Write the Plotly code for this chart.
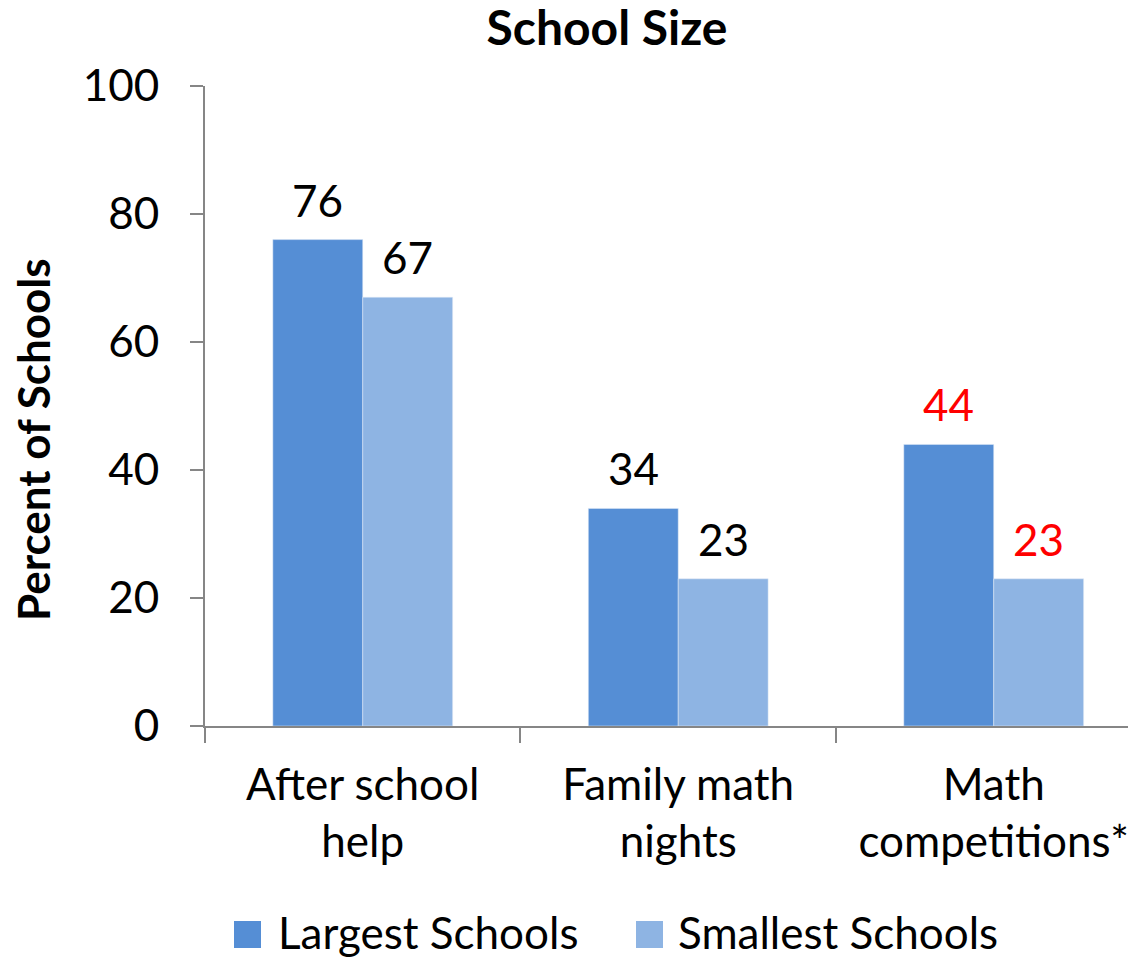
import plotly.graph_objects as go

categories = ["After school<br>help", "Family math<br>nights", "Math<br>competitions*"]
series_names = ["Largest Schools", "Smallest Schools"]
largest = [76, 34, 44]
smallest = [67, 23, 23]
label_colors = ["black", "black", "red"]
y_ticks = [0, 20, 40, 60, 80, 100]

FONT = "Lato"
SIZE = 44
COLORS = ["#558ED5", "#8EB4E3"]
AXIS = "#868686"

# the page body adds an 8px offset; work in figure pixels = page pixels - 8
OFF = 8
W, H = 1136 - OFF, 957 - OFF
ML, MR, MT = 205 - OFF, 0, 86 - OFF
MB = H - (726 - OFF)
PW, PH = W - ML - MR, H - MT - MB
X_RANGE = [-0.5, 2.451]
BARGAP = 0.43


def px_x(p):
    """page pixel x -> paper coordinate"""
    return (p - OFF - ML) / PW


def px_y(p):
    """page pixel y -> paper coordinate"""
    return (H - MB - (p - OFF)) / PH


fig = go.Figure()
for name, vals, col in zip(series_names, [largest, smallest], COLORS):
    fig.add_trace(go.Bar(x=categories, y=vals, name=name, marker=dict(color=col),
                         showlegend=False))

# value labels above each bar (offset to the bar's slot within the group)
cat_px = PW / (X_RANGE[1] - X_RANGE[0])
bar_px = cat_px * (1 - BARGAP) / 2
annotations = []
for k, vals in enumerate([largest, smallest]):
    shift = (k - 0.5) * bar_px
    for cat, v, c in zip(categories, vals, label_colors):
        annotations.append(dict(x=cat, y=v, xref="x", yref="y", text=str(v), showarrow=False,
                                xshift=shift, yshift=12, yanchor="bottom",
                                font=dict(family=FONT, size=SIZE, color=c)))

# y-axis title
annotations.append(dict(x=px_x(33), y=px_y(440), xref="paper", yref="paper",
                        text="<b>Percent of Schools</b>", textangle=-90, showarrow=False,
                        xanchor="center", yanchor="middle",
                        font=dict(family=FONT, size=SIZE, color="black")))

# legend (square + label)
legend_items = [(234, 276), (636, 676)]
shapes = []
for (sx, tx), name, col in zip(legend_items, series_names, COLORS):
    shapes.append(dict(type="rect", xref="paper", yref="paper",
                       x0=px_x(sx), x1=px_x(sx + 27), y0=px_y(948), y1=px_y(921),
                       fillcolor=col, line=dict(width=0)))
    annotations.append(dict(x=px_x(tx), y=px_y(932), xref="paper", yref="paper",
                            text=name, showarrow=False, xanchor="left", yanchor="middle",
                            font=dict(family=FONT, size=SIZE, color="black")))

fig.update_layout(
    width=W, height=H,
    margin=dict(l=ML, r=MR, t=MT, b=MB),
    plot_bgcolor="white", paper_bgcolor="white",
    font=dict(family=FONT, size=SIZE, color="black"),
    barmode="group", bargap=BARGAP, bargroupgap=0,
    title=dict(text="<b>School Size</b>", x=(607 - OFF) / W, xref="container", xanchor="center",
               y=1 - (28 - OFF) / H, yref="container", yanchor="middle",
               font=dict(family=FONT, size=48, color="black")),
    showlegend=False,
    annotations=annotations,
    shapes=shapes,
)
fig.update_xaxes(
    type="category", range=X_RANGE, automargin=False,
    showline=True, linecolor=AXIS, linewidth=2,
    ticks="outside", tickson="boundaries", ticklen=15, tickcolor=AXIS, tickwidth=2,
    tickfont=dict(family=FONT, size=SIZE), ticklabelstandoff=19,
    showgrid=False, zeroline=False,
)
fig.update_yaxes(
    range=[0, 100], tickvals=y_ticks, automargin=False,
    showline=True, linecolor=AXIS, linewidth=2,
    ticks="outside", ticklen=13, tickcolor=AXIS, tickwidth=2,
    tickfont=dict(family=FONT, size=SIZE), ticklabelstandoff=22,
    showgrid=False, zeroline=False,
)

fig.write_html("out.html")
